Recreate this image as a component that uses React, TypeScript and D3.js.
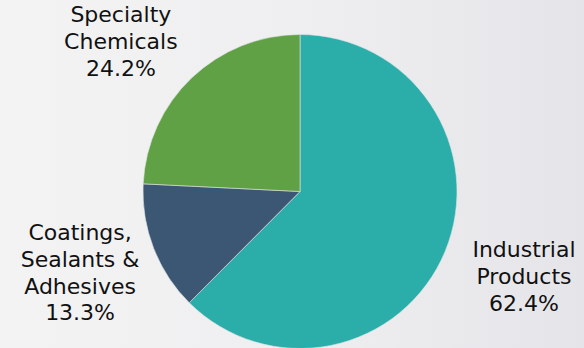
import React from "react";
import * as d3 from "d3";

const categories = ["Industrial Products", "Coatings, Sealants & Adhesives", "Specialty Chemicals"];
const labelLines = [["Industrial", "Products"], ["Coatings,", "Sealants &", "Adhesives"], ["Specialty", "Chemicals"]];
const values = [62.4, 13.3, 24.2];
const colors = ["#2baeaa", "#3b5773", "#61a145"];

const W = 584;
const H = 348;
const CX = 300;
const CY = 191.5;
const R = 157;
const LABEL_R = 238;
const FONT = 22;
const LH = 26.8;
const nudges = [
  { dx: 4, dy: -6 },
  { dx: 2, dy: -5 },
  { dx: -15, dy: 22 },
];

export default function App() {
  const pie = d3
    .pie<number>()
    .sort(null)
    .value((d) => d)
    .startAngle(0)
    .endAngle(2 * Math.PI * (values.reduce((a, b) => a + b, 0) / 99.9));
  const arcs = pie(values);
  const arc = d3.arc<d3.PieArcDatum<number>>().innerRadius(0).outerRadius(R);
  const labelArc = d3.arc<d3.PieArcDatum<number>>().innerRadius(LABEL_R).outerRadius(LABEL_R);

  return (
    <div style={{ position: "fixed", left: 0, top: 0, width: W, height: H }}>
      <svg width={W} height={H} style={{ display: "block" }}>
        <defs>
          <linearGradient id="bg" x1="0" y1="0" x2="1" y2="0">
            <stop offset="0" stopColor="#f3f3f3" />
            <stop offset="0.5" stopColor="#efeff1" />
            <stop offset="1" stopColor="#e5e5e9" />
          </linearGradient>
        </defs>
        <rect x={0} y={0} width={W} height={H} fill="url(#bg)" />
        <g transform={`translate(${CX},${CY})`}>
          {arcs.map((a, i) => (
            <path key={categories[i]} d={arc(a) || ""} fill={colors[i]} stroke="#dfe3e6" strokeWidth={0.6} />
          ))}
          {arcs.map((a, i) => {
            const [lx, ly] = labelArc.centroid(a);
            const lines = [...labelLines[i], `${values[i].toFixed(1)}%`];
            const n = lines.length;
            const x = lx + nudges[i].dx;
            const cy = ly + nudges[i].dy;
            return (
              <text
                key={categories[i] + "-l"}
                textAnchor="middle"
                fontFamily="DejaVu Sans, Verdana, sans-serif"
                fontSize={FONT}
                fill="#111"
              >
                {lines.map((t, j) => (
                  <tspan key={j} x={x} y={cy + (j - (n - 1) / 2) * LH + FONT * 0.35}>
                    {t}
                  </tspan>
                ))}
              </text>
            );
          })}
        </g>
      </svg>
    </div>
  );
}
